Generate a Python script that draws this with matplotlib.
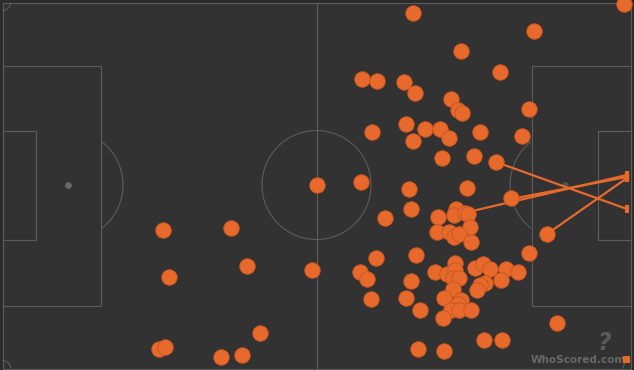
import matplotlib.pyplot as plt
from matplotlib.patches import Rectangle, Circle, Arc

# touch positions (pitch drawn in image-like units, 634 x 370, y downwards)
touch_x = [413, 624, 534, 461, 500, 362, 377, 404, 415, 451, 458, 462, 529,
           372, 406, 425, 440, 449, 413, 480, 522, 442, 474, 496,
           317, 361, 409, 467, 511, 411, 385, 438, 456, 454, 465, 468, 470,
           437, 449, 454, 459, 471, 547, 529, 376, 416, 312, 360, 367, 411,
           435, 447, 455, 455, 453, 459, 475, 483, 490, 506, 518, 501, 485,
           480, 477, 453, 371, 406, 444, 461, 458, 420, 451, 459, 471, 443,
           557, 484, 502, 418, 444,
           163, 231, 247, 169, 260, 159, 165, 221, 242]
touch_y = [13, 4, 31, 51, 72, 79, 81, 82, 93, 99, 110, 113, 109,
           132, 124, 129, 129, 138, 141, 132, 136, 158, 156, 162,
           185, 182, 189, 188, 198, 209, 218, 217, 209, 215, 213, 214, 227,
           232, 232, 237, 234, 242, 234, 253, 258, 255, 270, 272, 279, 281,
           272, 274, 263, 270, 278, 278, 268, 264, 269, 269, 272, 280, 283,
           285, 290, 289, 299, 298, 298, 300, 304, 310, 310, 310, 310, 318,
           323, 340, 340, 349, 351,
           230, 228, 266, 277, 333, 349, 347, 357, 355]

# passes into the box: start and end
pass_x0 = [496, 511, 468, 547]
pass_y0 = [162, 199, 212, 234]
pass_x1 = [627, 627, 627, 627]
pass_y1 = [209, 177, 175, 178]

bg = '#2b2b2b'
pitch_col = '#323232'
line_col = '#5c5c5c'
dot_col = '#e8692c'

fig = plt.figure(figsize=(6.34, 3.70), dpi=100, facecolor=bg)
ax = fig.add_axes([0, 0, 1, 1])
ax.set_xlim(0, 634)
ax.set_ylim(370, 0)
ax.set_facecolor(bg)
ax.axis('off')

# pitch markings
lw = 0.8
ax.add_patch(Rectangle((2.5, 2.5), 628.5, 366, facecolor=pitch_col, edgecolor=line_col, lw=lw))
ax.plot([316.5, 316.5], [2.5, 368.5], color=line_col, lw=lw)
ax.add_patch(Circle((316.5, 185), 54.5, fill=False, edgecolor=line_col, lw=lw))
# left end
ax.add_patch(Rectangle((2.5, 65.5), 98.5, 240, fill=False, edgecolor=line_col, lw=lw))
ax.add_patch(Rectangle((2.5, 130.5), 33, 109.5, fill=False, edgecolor=line_col, lw=lw))
ax.scatter([68], [185], s=14, color='#6a6a6a', zorder=2)
ax.add_patch(Arc((68, 185), 110, 110, theta1=-52, theta2=52, edgecolor=line_col, lw=lw))
# right end
ax.add_patch(Rectangle((532, 65.5), 99, 240, fill=False, edgecolor=line_col, lw=lw))
ax.add_patch(Rectangle((597.5, 130.5), 33.5, 109.5, fill=False, edgecolor=line_col, lw=lw))
ax.scatter([565], [185], s=14, color='#555555', zorder=2)
ax.add_patch(Arc((565, 185), 110, 110, theta1=128, theta2=232, edgecolor=line_col, lw=lw))
# corner arcs
for cx, cy, t1, t2 in [(2.5, 2.5, 0, 90), (2.5, 368.5, 270, 360),
                       (631, 2.5, 90, 180), (631, 368.5, 180, 270)]:
    ax.add_patch(Arc((cx, cy), 16, 16, theta1=t1, theta2=t2, edgecolor=line_col, lw=lw))

# passes
for x0, y0, x1, y1 in zip(pass_x0, pass_y0, pass_x1, pass_y1):
    ax.plot([x0, x1], [y0, y1], color=dot_col, lw=1.6, zorder=3, solid_capstyle='butt')
    ax.plot([x1, x1], [y1 - 4, y1 + 4], color=dot_col, lw=3, zorder=3, solid_capstyle='butt')

# touches
ax.scatter(touch_x, touch_y, s=125, color=dot_col, edgecolors='#c4561f',
           linewidths=0.6, zorder=4, clip_on=True)

# watermark
ax.text(626, 360, 'WhoScored.com', color='#6e6e6e', fontsize=7.5, fontweight='bold',
        ha='right', va='center', alpha=0.9, zorder=5)
ax.text(604, 343, '?', color='#666666', fontsize=17, fontweight='bold', fontstyle='italic',
        ha='center', va='center', alpha=0.8, zorder=5)
ax.add_patch(Rectangle((623, 356), 7, 7, facecolor=dot_col, edgecolor='none', zorder=6))

fig.savefig('out.png', dpi=100, facecolor=bg)
